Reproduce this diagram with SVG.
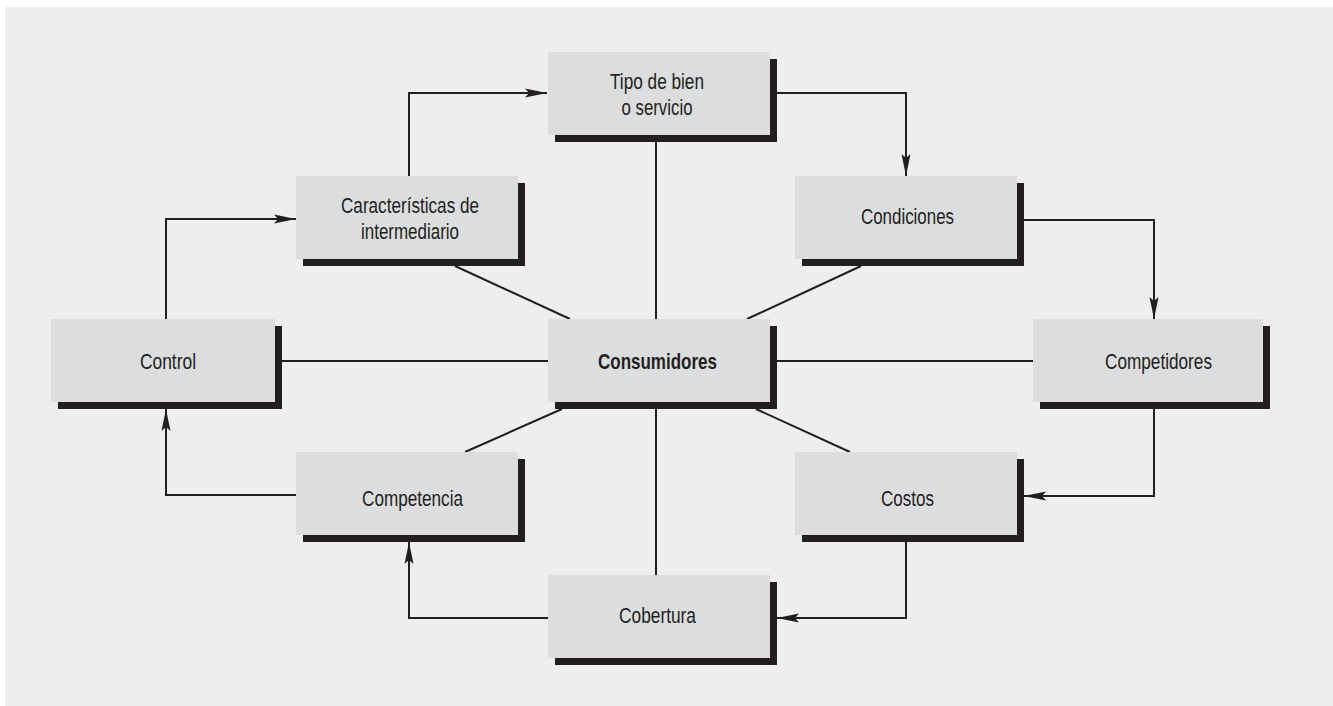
<svg xmlns="http://www.w3.org/2000/svg" width="1333" height="706" viewBox="0 0 1333 706">
  <style>
    .box { fill: #dcdddf; }
    .shadow { fill: #231f20; }
    .label { font-family: "Liberation Sans", Arial, Helvetica, sans-serif; font-size: 22px; fill: #231f20; text-anchor: middle; }
    .bold { font-weight: bold; }
    .link { fill: none; stroke: #231f20; stroke-width: 2; }
    .flow { fill: none; stroke: #231f20; stroke-width: 2; marker-end: url(#arrow); }
  </style>
  <defs>
    <marker id="arrow" viewBox="0 0 22 10" refX="22" refY="5" markerWidth="22" markerHeight="10" markerUnits="userSpaceOnUse" orient="auto">
      <path d="M0,0.5 L22,5 L0,9.5 L4,5 Z" fill="#231f20"/>
    </marker>
  </defs>

  <rect x="0" y="0" width="1333" height="706" fill="#ffffff"/>
  <rect x="5" y="7" width="1328" height="699" fill="#eeeeee"/>

  <!-- radial links and circular flow -->
  <g id="connectors">
    <path class="link" d="M656,142 V319"/>
    <path class="link" d="M656,409 V575"/>
    <path class="link" d="M282,361 H548"/>
    <path class="link" d="M777,361 H1033"/>
    <path class="link" d="M455,266 L570,319"/>
    <path class="link" d="M861,266 L747,319"/>
    <path class="link" d="M465,452 L562,409"/>
    <path class="link" d="M850,452 L756,409"/>

    <path class="flow" d="M409,176 V93 H547"/>
    <path class="flow" d="M777,93 H906 V176"/>
    <path class="flow" d="M1024,220 H1154 V319"/>
    <path class="flow" d="M1154,409 V496 H1024"/>
    <path class="flow" d="M906,542 V618 H777"/>
    <path class="flow" d="M548,618 H409 V542"/>
    <path class="flow" d="M296,495 H166 V409"/>
    <path class="flow" d="M166,319 V219 H296"/>
  </g>

  <g id="tipo">
    <rect class="shadow" x="555" y="59" width="222" height="83"/>
    <rect class="box" x="548" y="52" width="222" height="83"/>
    <text class="label" x="657" y="89" textLength="94" lengthAdjust="spacingAndGlyphs">Tipo de bien</text>
    <text class="label" x="657" y="115" textLength="71" lengthAdjust="spacingAndGlyphs">o servicio</text>
  </g>

  <g id="caracteristicas">
    <rect class="shadow" x="303" y="183" width="222" height="83"/>
    <rect class="box" x="296" y="176" width="222" height="83"/>
    <text class="label" x="410" y="213" textLength="138" lengthAdjust="spacingAndGlyphs">Características de</text>
    <text class="label" x="410" y="239" textLength="98" lengthAdjust="spacingAndGlyphs">intermediario</text>
  </g>

  <g id="condiciones">
    <rect class="shadow" x="802" y="183" width="222" height="83"/>
    <rect class="box" x="795" y="176" width="222" height="83"/>
    <text class="label" x="907.5" y="224" textLength="93" lengthAdjust="spacingAndGlyphs">Condiciones</text>
  </g>

  <g id="control">
    <rect class="shadow" x="58" y="326" width="224" height="83"/>
    <rect class="box" x="51" y="319" width="224" height="83"/>
    <text class="label" x="168" y="369" textLength="56" lengthAdjust="spacingAndGlyphs">Control</text>
  </g>

  <g id="consumidores">
    <rect class="shadow" x="555" y="326" width="222" height="83"/>
    <rect class="box" x="548" y="319" width="222" height="83"/>
    <text class="label bold" x="657.5" y="369" textLength="119" lengthAdjust="spacingAndGlyphs">Consumidores</text>
  </g>

  <g id="competidores">
    <rect class="shadow" x="1040" y="326" width="230" height="83"/>
    <rect class="box" x="1033" y="319" width="230" height="83"/>
    <text class="label" x="1158.5" y="369" textLength="107" lengthAdjust="spacingAndGlyphs">Competidores</text>
  </g>

  <g id="competencia">
    <rect class="shadow" x="303" y="459" width="222" height="83"/>
    <rect class="box" x="296" y="452" width="222" height="83"/>
    <text class="label" x="412.5" y="506" textLength="101" lengthAdjust="spacingAndGlyphs">Competencia</text>
  </g>

  <g id="costos">
    <rect class="shadow" x="802" y="459" width="222" height="83"/>
    <rect class="box" x="795" y="452" width="222" height="83"/>
    <text class="label" x="907.5" y="506" textLength="53" lengthAdjust="spacingAndGlyphs">Costos</text>
  </g>

  <g id="cobertura">
    <rect class="shadow" x="555" y="582" width="222" height="83"/>
    <rect class="box" x="548" y="575" width="222" height="83"/>
    <text class="label" x="657.5" y="623" textLength="77" lengthAdjust="spacingAndGlyphs">Cobertura</text>
  </g>
</svg>
